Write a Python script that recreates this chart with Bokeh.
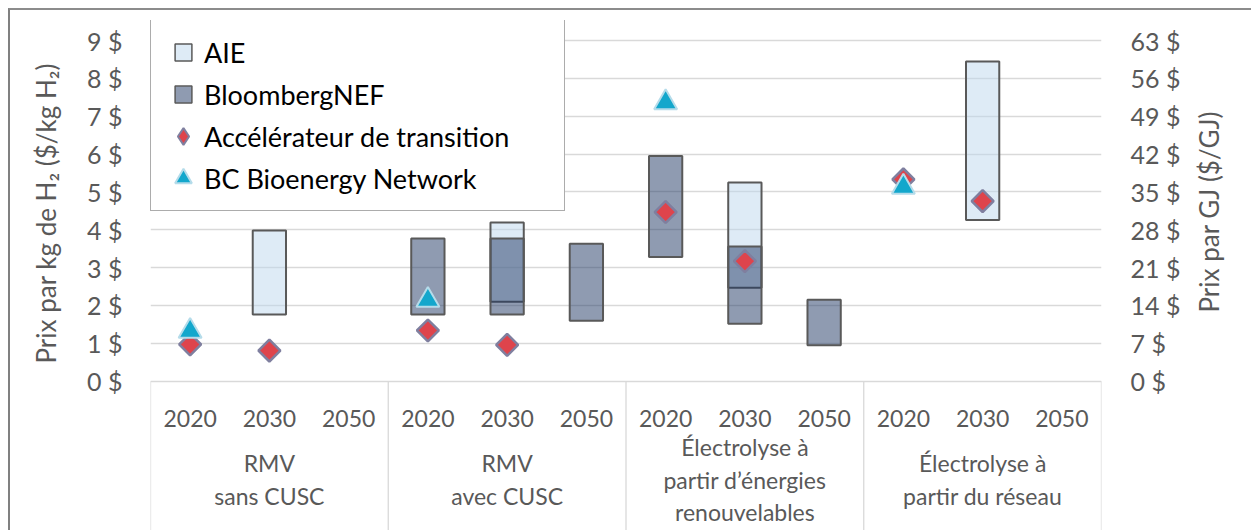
import numpy as np
from bokeh.plotting import figure
from bokeh.layouts import row
from bokeh.models import (Range1d, LinearAxis, FixedTicker, PrintfTickFormatter,
                          Legend, LegendItem, Title)
from bokeh.core.properties import value
from bokeh.embed import file_html
from bokeh.resources import INLINE

nan = float("nan")

# ---------------- data ----------------
groups = ["RMV\nsans CUSC", "RMV\navec CUSC",
          "Électrolyse à\npartir d’énergies\nrenouvelables",
          "Électrolyse à\npartir du réseau"]
years = ["2020", "2030", "2050"]

# AIE range (low / high), per group x year
aie_low  = [nan, 1.76, nan,  nan, 2.10, nan,  nan, 2.47, nan,  nan, 4.26, nan]
aie_high = [nan, 3.98, nan,  nan, 4.19, nan,  nan, 5.25, nan,  nan, 8.45, nan]
# BloombergNEF range
bnef_low  = [nan, nan, nan,  1.76, 1.76, 1.60,  3.28, 1.52, 0.95,  nan, nan, nan]
bnef_high = [nan, nan, nan,  3.77, 3.77, 3.63,  5.95, 3.56, 2.15,  nan, nan, nan]
# Accélérateur de transition (diamonds)
accel = [0.97, 0.81, nan,  1.34, 0.96, nan,  4.47, 3.17, nan,  5.33, 4.76, nan]
# BC Bioenergy Network (triangles)
bcbn  = [1.32, nan, nan,  2.14, nan, nan,  7.36, nan, nan,  5.13, nan, nan]

left_ticks = list(range(0, 10))
gj_factor = 7
right_ticks = [t * gj_factor for t in left_ticks]

series_names = ["AIE", "BloombergNEF", "Accélérateur de transition", "BC Bioenergy Network"]
left_title = "Prix par kg de H₂ ($/kg H₂)"
right_title = "Prix par GJ ($/GJ)"

# ---------------- layout ----------------
FONT = "Lato"
GREY = "#595959"
ny = len(years)
ng = len(groups)
xs = [gi * ny + yi + 0.5 for gi in range(ng) for yi in range(ny)]
group_x = [gi * ny + ny / 2 for gi in range(ng)]
bounds = [gi * ny for gi in range(ng + 1)]

Y0, Y1 = -3.945, 9.530
H = 520
TOP, BOTTOM = 10, 0

p = figure(width=1110, height=H,
           x_range=Range1d(0, ng * ny), y_range=Range1d(Y0, Y1),
           output_backend="svg", toolbar_location=None,
           x_axis_location=None,
           min_border_left=70, min_border_right=89,
           min_border_top=TOP, min_border_bottom=BOTTOM)
p.outline_line_color = None
p.background_fill_color = "white"
p.border_fill_color = "white"

# left axis
ya = p.left[0]
ya.ticker = FixedTicker(ticks=left_ticks)
ya.formatter = PrintfTickFormatter(format="%d $")
ya.major_label_text_font = FONT
ya.major_label_text_font_size = "25px"
ya.major_label_text_color = GREY
ya.axis_line_color = None
ya.major_tick_line_color = None
ya.minor_tick_line_color = None
ya.major_tick_out = 0
ya.major_label_standoff = 28

# grid
p.xgrid.visible = False
p.ygrid.ticker = FixedTicker(ticks=left_ticks)
p.ygrid.grid_line_color = "#d9d9d9"
p.ygrid.grid_line_width = 1.3

# right axis
p.extra_y_ranges = {"gj": Range1d(Y0 * gj_factor, Y1 * gj_factor)}
ra = LinearAxis(y_range_name="gj", ticker=FixedTicker(ticks=right_ticks),
                formatter=PrintfTickFormatter(format="%d $"))
ra.major_label_text_font = FONT
ra.major_label_text_font_size = "25px"
ra.major_label_text_color = GREY
ra.axis_line_color = None
ra.major_tick_line_color = None
ra.minor_tick_line_color = None
ra.major_tick_out = 0
ra.major_label_standoff = 29
p.add_layout(ra, "right")

# category table separators
p.segment(x0=bounds, y0=[0] * len(bounds), x1=bounds, y1=[Y0] * len(bounds),
          line_color="#d9d9d9", line_width=1.3)

# category labels
p.text(x=xs, y=[-0.98] * len(xs), text=years * ng,
       text_align="center", text_baseline="middle",
       text_font=value(FONT), text_font_size="23px", text_color=GREY)
p.text(x=group_x, y=[-2.60] * ng, text=groups,
       text_align="center", text_baseline="middle", text_line_height=1.17,
       text_font=value(FONT), text_font_size="23px", text_color=GREY)

# bars
AIE_FILL = "#BDD7EE"
BNEF_FILL = "#1F3864"
r_aie = p.vbar(x=xs, bottom=aie_low, top=aie_high, width=0.42,
               fill_color=AIE_FILL, fill_alpha=0.5, line_color=GREY, line_width=2)
r_bnef = p.vbar(x=xs, bottom=bnef_low, top=bnef_high, width=0.42,
                fill_color=BNEF_FILL, fill_alpha=0.5, line_color=GREY, line_width=2)

# markers
DIA_FILL, DIA_LINE = "#DE444C", "#7F7F9F"
TRI_FILL, TRI_LINE = "#13A7CC", "#B5DCEA"
r_acc = p.scatter(x=xs, y=accel, marker="square", angle=np.pi / 4, size=15.5,
                  fill_color=DIA_FILL, line_color=DIA_LINE, line_width=2.5)
r_bc = p.scatter(x=xs, y=bcbn, marker="triangle", size=23,
                 fill_color=TRI_FILL, line_color=TRI_LINE, line_width=2)

# legend carriers (not drawn in the plot: NaN position)
l_aie = p.scatter(x=[nan], y=[nan], marker="square", fill_color=AIE_FILL, fill_alpha=0.5,
                  line_color=GREY, line_width=1.5)
l_bnef = p.scatter(x=[nan], y=[nan], marker="square", fill_color=BNEF_FILL, fill_alpha=0.5,
                   line_color=GREY, line_width=1.5)
l_acc = p.scatter(x=[nan], y=[nan], marker="diamond", fill_color=DIA_FILL,
                  line_color=DIA_LINE, line_width=2)
l_bc = p.scatter(x=[nan], y=[nan], marker="triangle", fill_color=TRI_FILL,
                 line_color=TRI_LINE, line_width=2)

legend = Legend(items=[LegendItem(label=series_names[0], renderers=[l_aie]),
                       LegendItem(label=series_names[1], renderers=[l_bnef]),
                       LegendItem(label=series_names[2], renderers=[l_acc]),
                       LegendItem(label=series_names[3], renderers=[l_bc])],
                location=(0, 319), padding=11, spacing=0, margin=0,
                glyph_width=42, glyph_height=42, label_standoff=0,
                label_width=349, label_height=42,
                label_text_font=FONT, label_text_font_size="27px",
                label_text_color="black",
                border_line_color=GREY, border_line_width=1.5,
                background_fill_color="white", background_fill_alpha=1.0)
p.add_layout(legend)


def title_panel(width, text, standoff, offset):
    """Narrow figure (same frame band as the chart) carrying a vertical title."""
    f = figure(width=width, height=H, x_range=Range1d(0, 1), y_range=Range1d(0, 1),
               output_backend="svg", toolbar_location=None,
               x_axis_location=None, y_axis_location=None,
               min_border_left=0, min_border_right=0,
               min_border_top=TOP, min_border_bottom=BOTTOM)
    f.outline_line_color = None
    f.xgrid.visible = False
    f.ygrid.visible = False
    f.add_layout(Title(text=text, align="left", offset=offset, standoff=standoff,
                       text_font=FONT, text_font_size="26px", text_font_style="normal",
                       text_color=GREY), "left")
    return f


left_side = title_panel(70, left_title, 38, 167)
right_side = title_panel(61, right_title, 0, 218)

layout = row(left_side, p, right_side, spacing=0,
             styles={"margin-left": "8px", "margin-top": "8px",
                     "border-left": "2px solid #808080",
                     "border-top": "2px solid #8c8c8c"})

open("out.html", "w").write(file_html(layout, INLINE))
